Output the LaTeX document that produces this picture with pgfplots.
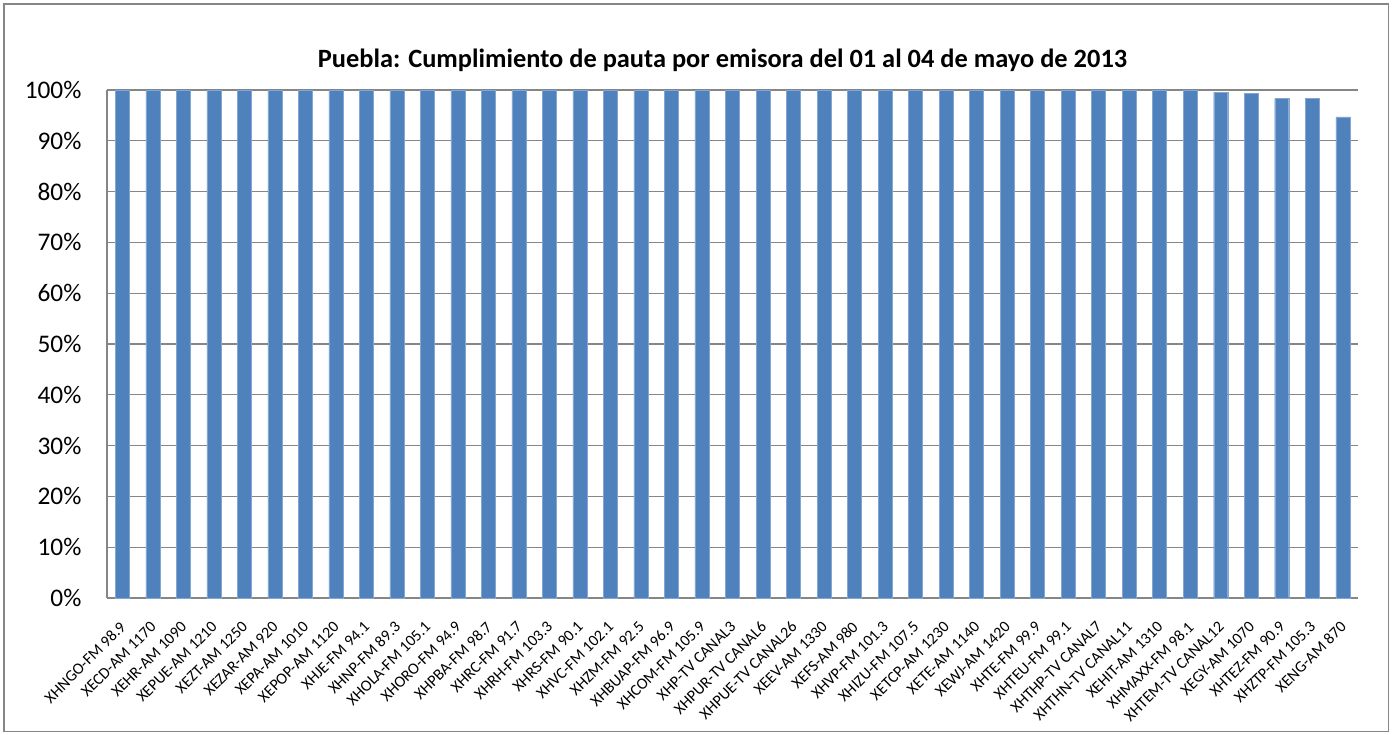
\documentclass[border=0pt]{standalone}
\usepackage{pgfplots}
\pgfplotsset{compat=1.18}
\usepackage{fontspec}
\setmainfont{Carlito}
\definecolor{barblue}{HTML}{4F81BD}
\definecolor{gridgray}{HTML}{868686}
\begin{document}
\begin{tikzpicture}[x=1pt,y=1pt]
\useasboundingbox (-80.25,-102.75) rectangle (963.75,448.5);
\draw[gridgray, line width=0.9pt] (-77.25,-100) rectangle (961,445.5);
\begin{axis}[
  scale only axis,
  width=938.25pt, height=381pt,
  ybar, bar width=10.5pt,
  xmin=-0.5, xmax=40.5,
  ymin=0, ymax=100,
  ytick={0,10,...,100},
  yticklabel={\pgfmathprintnumber{\tick}\%},
  /pgf/number format/assume math mode=true,
  xtick=data,
  xticklabels={XHNGO-FM 98.9,XECD-AM 1170,XEHR-AM 1090,XEPUE-AM 1210,XEZT-AM 1250,XEZAR-AM 920,XEPA-AM 1010,XEPOP-AM 1120,XHJE-FM 94.1,XHNP-FM 89.3,XHOLA-FM 105.1,XHORO-FM 94.9,XHPBA-FM 98.7,XHRC-FM 91.7,XHRH-FM 103.3,XHRS-FM 90.1,XHVC-FM 102.1,XHZM-FM 92.5,XHBUAP-FM 96.9,XHCOM-FM 105.9,XHP-TV CANAL3,XHPUR-TV CANAL6,XHPUE-TV CANAL26,XEEV-AM 1330,XEFS-AM 980,XHVP-FM 101.3,XHIZU-FM 107.5,XETCP-AM 1230,XETE-AM 1140,XEWJ-AM 1420,XHTE-FM 99.9,XHTEU-FM 99.1,XHTHP-TV CANAL7,XHTHN-TV CANAL11,XEHIT-AM 1310,XHMAXX-FM 98.1,XHTEM-TV CANAL12,XEGY-AM 1070,XHTEZ-FM 90.9,XHZTP-FM 105.3,XENG-AM 870},
  x tick label style={rotate=45, anchor=north east, font=\fontsize{12}{14}\selectfont, inner sep=1pt, xshift=-12.5pt, yshift=-9pt},
  y tick label style={font=\fontsize{19}{21}\selectfont, inner sep=1pt, xshift=-18pt},
  major tick length=0pt,
  ymajorgrids,
  grid style={gridgray, line width=0.9pt},
  axis x line*=bottom,
  axis y line*=left,
  x axis line style={gridgray, line width=1.2pt, -},
  y axis line style={gridgray, line width=0.9pt, -},
  title={Puebla: Cumplimiento de pauta por emisora del 01 al 04 de mayo de 2013},
  title style={font=\fontsize{19.8}{22}\selectfont\bfseries, yshift=4pt, xshift=-7.5pt},
  clip=false,
]
\addplot[fill=barblue, draw=barblue!70!white, line width=0.3pt] coordinates {
(0,100) (1,100) (2,100) (3,100) (4,100) (5,100) (6,100) (7,100) (8,100) (9,100)
(10,100) (11,100) (12,100) (13,100) (14,100) (15,100) (16,100) (17,100) (18,100) (19,100)
(20,100) (21,100) (22,100) (23,100) (24,100) (25,100) (26,100) (27,100) (28,100) (29,100)
(30,100) (31,100) (32,100) (33,100) (34,100) (35,100) (36,99.6) (37,99.35) (38,98.3) (39,98.3)
(40,94.7)
};
\end{axis}
\end{tikzpicture}
\end{document}
